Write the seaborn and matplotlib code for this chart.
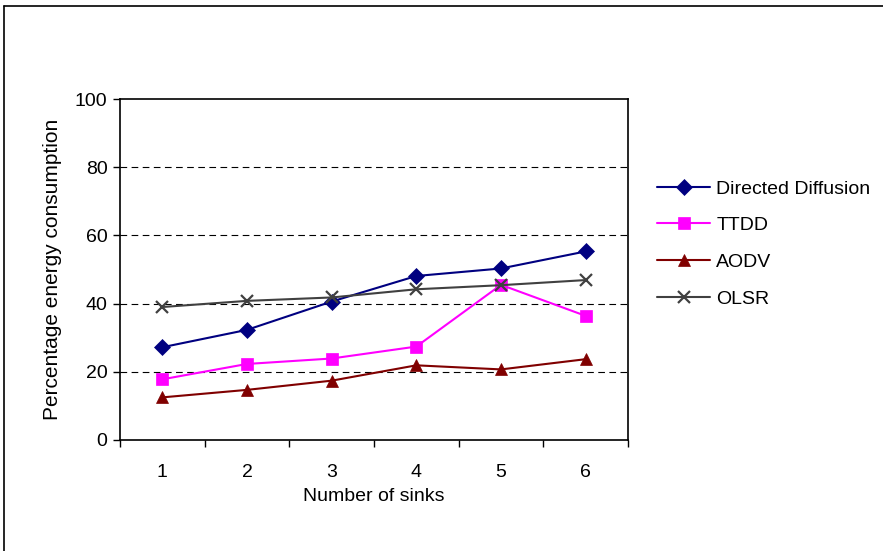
import matplotlib
matplotlib.use("Agg")
import matplotlib.pyplot as plt
import seaborn as sns
import pandas as pd
from matplotlib.lines import Line2D

sinks = [1, 2, 3, 4, 5, 6]
directed_diffusion = [27.2, 32.3, 40.6, 48.1, 50.3, 55.3]
ttdd = [17.8, 22.3, 23.9, 27.4, 45.5, 36.4]
aodv = [12.5, 14.7, 17.4, 21.9, 20.7, 23.7]
olsr = [39.0, 40.8, 41.8, 44.2, 45.4, 46.9]
series_names = ["Directed Diffusion", "TTDD", "AODV", "OLSR"]
y_ticks = [0, 20, 40, 60, 80, 100]

sns.set_theme(style="white")
plt.rcParams['font.family'] = ['Liberation Sans', 'DejaVu Sans']
plt.rcParams['text.color'] = 'black'
plt.rcParams['axes.labelcolor'] = 'black'
plt.rcParams['xtick.color'] = 'black'
plt.rcParams['ytick.color'] = 'black'
FS = 14

fig = plt.figure(figsize=(8.83, 5.51), dpi=100)
ax = fig.add_axes([120/883, 1-440/551, (628-120)/883, (440-99)/551])

styles = [
    ("#000080", "D", 8),
    ("#FF00FF", "s", 8),
    ("#800000", "^", 9),
    ("#404040", "x", 9),
]
for name, vals, (c, m, ms) in zip(series_names, [directed_diffusion, ttdd, aodv, olsr], styles):
    df = pd.DataFrame({"x": sinks, "y": vals})
    sns.lineplot(data=df, x="x", y="y", ax=ax, color=c, marker=m, markersize=ms,
                 markerfacecolor=c, markeredgecolor=c, markeredgewidth=1.6 if m == "x" else 0.5,
                 linewidth=1.5, label=name)

ax.set_xlim(0.5, 6.5)
ax.set_ylim(0, 100)
ax.set_yticks(y_ticks)
ax.set_xticks(sinks)
ax.set_xticks([0.5 + i for i in range(7)], minor=True)
ax.tick_params(axis="x", which="major", length=0, pad=17.5, labelsize=FS, labelcolor="black")
ax.tick_params(axis="x", which="minor", length=5, width=1, direction="out", color="black", bottom=True)
ax.tick_params(axis="y", which="major", length=5, width=1, direction="out", color="black", left=True,
               labelsize=FS, pad=4, labelcolor="black")
for y in [20, 40, 60, 80]:
    ax.axhline(y, color="black", linestyle=(0, (6, 4)), linewidth=0.8, zorder=0)
for s in ax.spines.values():
    s.set_color("black")
    s.set_linewidth(1.2)
ax.set_xlabel("Number of sinks", fontsize=FS, labelpad=5, color="black")
ax.set_ylabel("Percentage energy consumption", fontsize=15, labelpad=9, color="black")

leg = ax.legend(loc="upper left", bbox_to_anchor=(657/883, 1-180/551), bbox_transform=fig.transFigure,
                frameon=False, fontsize=FS, handlelength=2.75, labelspacing=0.98, handletextpad=0.3,
                borderpad=0, borderaxespad=0)
for t in leg.get_texts():
    t.set_color("black")

# figure border (only top and left visible in the reference)
fig.add_artist(Line2D([4/883, 4/883], [0, 1-6/551], transform=fig.transFigure, color="black", linewidth=1.2))
fig.add_artist(Line2D([4/883, 1], [1-6/551, 1-6/551], transform=fig.transFigure, color="black", linewidth=1.2))
fig.savefig("out.png", dpi=100)
